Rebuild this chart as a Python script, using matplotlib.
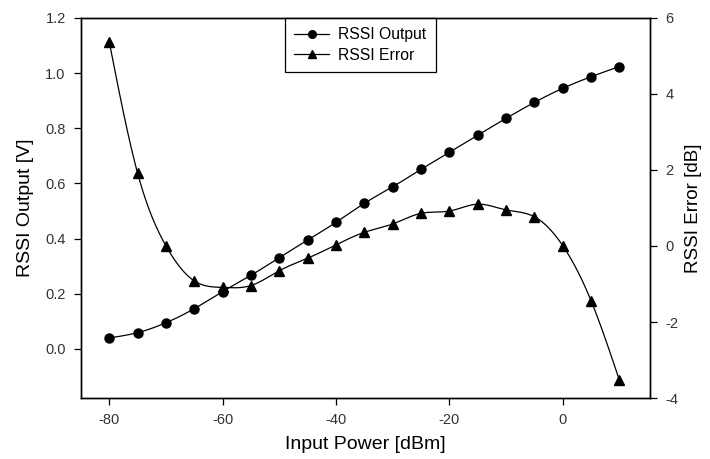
import numpy as np
import matplotlib
matplotlib.use("Agg")
import matplotlib.pyplot as plt
from matplotlib.lines import Line2D

plt.rcParams['font.family'] = ['Liberation Sans', 'DejaVu Sans']
plt.rcParams['axes.unicode_minus'] = False

power_dbm = [-80, -75, -70, -65, -60, -55, -50, -45, -40, -35, -30,
             -25, -20, -15, -10, -5, 0, 5, 10]
rssi_output_v = [0.040, 0.059, 0.095, 0.146, 0.208, 0.267, 0.331, 0.395,
                 0.459, 0.528, 0.588, 0.651, 0.713, 0.775, 0.836, 0.894,
                 0.945, 0.987, 1.024]
rssi_error_db = [5.36, 1.91, 0.00, -0.92, -1.09, -1.04, -0.65, -0.32,
                 0.03, 0.36, 0.58, 0.86, 0.92, 1.10, 0.95, 0.77, 0.01,
                 -1.44, -3.53]


def smooth(x, y, n=400):
    """Natural cubic spline used only to draw the connecting curve."""
    x = np.asarray(x, float); y = np.asarray(y, float)
    m = len(x); h = np.diff(x)
    A = np.zeros((m, m)); b = np.zeros(m)
    A[0, 0] = A[-1, -1] = 1
    for i in range(1, m - 1):
        A[i, i - 1] = h[i - 1]; A[i, i] = 2 * (h[i - 1] + h[i]); A[i, i + 1] = h[i]
        b[i] = 3 * ((y[i + 1] - y[i]) / h[i] - (y[i] - y[i - 1]) / h[i - 1])
    c = np.linalg.solve(A, b)
    xs = np.linspace(x[0], x[-1], n)
    idx = np.clip(np.searchsorted(x, xs) - 1, 0, m - 2)
    dx = xs - x[idx]
    bb = (y[idx + 1] - y[idx]) / h[idx] - h[idx] * (2 * c[idx] + c[idx + 1]) / 3
    d = (c[idx + 1] - c[idx]) / (3 * h[idx])
    ys = y[idx] + bb * dx + c[idx] * dx ** 2 + d * dx ** 3
    return xs, ys


fig = plt.figure(figsize=(7.10, 4.59), dpi=100)
ax = fig.add_axes([81 / 710, 1 - 398 / 459, (650 - 81) / 710, (398 - 18) / 459])
ax2 = ax.twinx()

tick_color = '#333333'
lw = 0.9

xs, ys = smooth(power_dbm, rssi_output_v)
ax.plot(xs, ys, color='black', lw=lw)
ax.plot(power_dbm, rssi_output_v, ls='none', marker='o', ms=6.5, color='black')

xs2, ys2 = smooth(power_dbm, rssi_error_db)
ax2.plot(xs2, ys2, color='black', lw=lw)
ax2.plot(power_dbm, rssi_error_db, ls='none', marker='^', ms=7, color='black')

ax.set_xlim(-85, 15.4)
ax.set_ylim(-0.178, 1.2)
ax2.set_ylim(-4, 6)

ax.set_xticks([-80, -60, -40, -20, 0])
ax.set_yticks([0.0, 0.2, 0.4, 0.6, 0.8, 1.0, 1.2])
ax.set_yticklabels(['0.0', '0.2', '0.4', '0.6', '0.8', '1.0', '1.2'])
ax2.set_yticks([-4, -2, 0, 2, 4, 6])

for a in (ax, ax2):
    a.tick_params(direction='out', length=5, width=0.9, labelsize=10.5,
                  colors='black', labelcolor=tick_color, pad=6)
    for s in a.spines.values():
        s.set_linewidth(1.0)

ax.set_xlabel('Input Power [dBm]', fontsize=14, labelpad=6)
ax.set_ylabel('RSSI Output [V]', fontsize=14, labelpad=8)
ax2.set_ylabel('RSSI Error [dB]', fontsize=13.5, labelpad=5)

handles = [Line2D([], [], color='black', lw=lw, marker='o', ms=5.5),
           Line2D([], [], color='black', lw=lw, marker='^', ms=6)]
leg = ax.legend(handles, ['RSSI Output', 'RSSI Error'], loc='upper left',
                bbox_to_anchor=((285 - 81) / 569, 1.0), fancybox=False,
                edgecolor='black', framealpha=1, fontsize=11.3,
                borderaxespad=0, handlelength=2.2, labelspacing=0.35,
                borderpad=0.6, handletextpad=0.6)
leg.get_frame().set_linewidth(0.9)

fig.savefig('out.png', dpi=100)
